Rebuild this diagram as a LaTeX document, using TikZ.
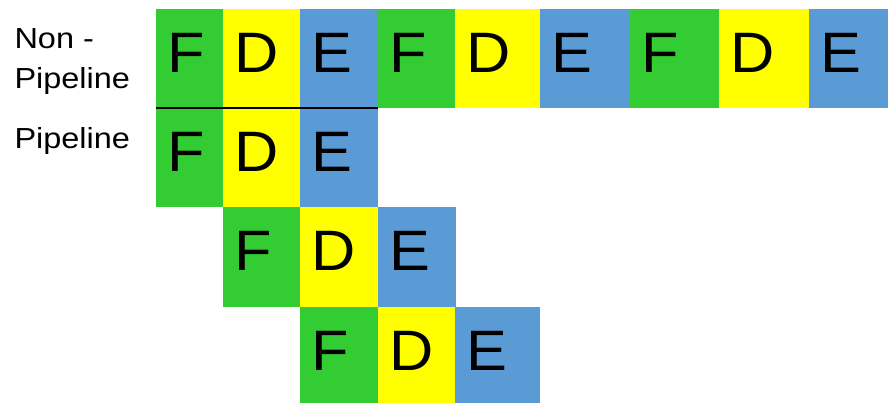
\documentclass[tikz,border=0pt]{standalone}
\usepackage{graphicx}
\usepackage{fontspec}
\setmainfont{Liberation Sans}
\definecolor{fgreen}{HTML}{33CC33}
\definecolor{dyellow}{HTML}{FFFF00}
\definecolor{eblue}{HTML}{5B9BD5}
\newcommand\mkcell[7]{%
  \node[cellbox, fill=#6, minimum width=#4pt, minimum height=#5pt] (#1) at (#2,#3) {};
  \node[letter] (#1t) at ([shift={(11.5pt,-63.5pt)}]#1.north west) {\scalebox{1.075}[1]{#7}};}
\tikzset{
  cellbox/.style={draw=none, inner sep=0pt, outer sep=0pt, anchor=north west},
  letter/.style={inner sep=0pt, outer sep=0pt, anchor=base west, font=\fontsize{57}{57}\selectfont},
  lbl/.style={inner sep=0pt, outer sep=0pt, anchor=base west, font=\fontsize{29}{41}\selectfont},
  sep/.style={draw=black, line width=1.8pt}
}
\begin{document}
\begin{tikzpicture}[x=1pt,y=-1pt]
\useasboundingbox (0,0) rectangle (888,403);
% row 1 (non-pipeline)
\mkcell{a1}{156}{9}{67}{99}{fgreen}{F}
\mkcell{a2}{223}{9}{77}{99}{dyellow}{D}
\mkcell{a3}{300}{9}{78}{99}{eblue}{E}
\mkcell{a4}{378}{9}{77}{99}{fgreen}{F}
\mkcell{a5}{455}{9}{85}{99}{dyellow}{D}
\mkcell{a6}{540}{9}{90}{99}{eblue}{E}
\mkcell{a7}{630}{9}{89}{99}{fgreen}{F}
\mkcell{a8}{719}{9}{90}{99}{dyellow}{D}
\mkcell{a9}{809}{9}{79}{99}{eblue}{E}
% row 2
\mkcell{b1}{156}{108}{67}{99}{fgreen}{F}
\mkcell{b2}{223}{108}{77}{99}{dyellow}{D}
\mkcell{b3}{300}{108}{78}{99}{eblue}{E}
% row 3
\mkcell{c1}{223}{207}{77}{100}{fgreen}{F}
\mkcell{c2}{300}{207}{78}{100}{dyellow}{D}
\mkcell{c3}{378}{207}{78}{100}{eblue}{E}
% row 4
\mkcell{d1}{300}{307}{78}{96}{fgreen}{F}
\mkcell{d2}{378}{307}{77}{96}{dyellow}{D}
\mkcell{d3}{455}{307}{85}{96}{eblue}{E}
% separator
\draw[sep] (b1.north west) -- (b3.north east);
% labels
\node[lbl] (nonpipe) at (14.5,48.3) {\scalebox{1.12}[1]{Non -}};
\node[lbl] (nonpipe2) at (14.5,89) {\scalebox{1.12}[1]{Pipeline}};
\node[lbl] (pipe) at (14.5,149) {\scalebox{1.12}[1]{Pipeline}};
\end{tikzpicture}
\end{document}
